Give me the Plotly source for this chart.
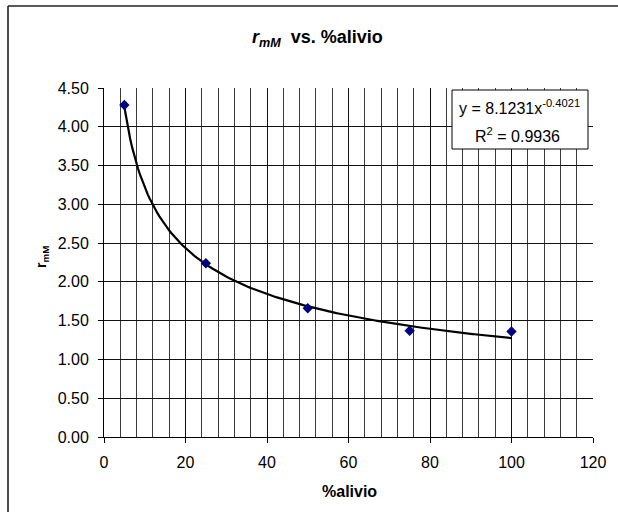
import numpy as np
import plotly.graph_objects as go

# ---- data ----
alivio = [5, 25, 50, 75, 100]
r_mM = [4.28, 2.24, 1.66, 1.37, 1.36]

# displayed power-trendline parameters (y = a * x^b)
fit_a = 8.1231
fit_b = -0.4021
fit_r2 = 0.9936

x_ticks = [0, 20, 40, 60, 80, 100, 120]
y_ticks = [0.0, 0.5, 1.0, 1.5, 2.0, 2.5, 3.0, 3.5, 4.0, 4.5]

# ---- layout geometry (window pixels) ----
W, H = 618, 512
L, R, T, B = 104, 593, 88, 437   # plot area edges in px

def px(x):
    return (x - L) / (R - L)

def py(y):
    return (B - y) / (B - T)

fit_x = np.linspace(min(alivio), max(alivio), 200)
fit_y = fit_a * fit_x ** fit_b

FONT = "Liberation Sans, Arial, sans-serif"

fig = go.Figure()
fig.add_trace(go.Scatter(
    x=fit_x, y=fit_y, mode="lines",
    line=dict(color="black", width=2.2), hoverinfo="skip", showlegend=False))
fig.add_trace(go.Scatter(
    x=alivio, y=r_mM, mode="markers",
    marker=dict(symbol="diamond", size=8, color="#000080",
                line=dict(width=0)),
    showlegend=False))

fig.update_layout(
    width=W, height=H,
    margin=dict(l=L, r=W - R, t=T, b=H - B, pad=0, autoexpand=False),
    paper_bgcolor="white", plot_bgcolor="white",
    font=dict(family=FONT, color="black", size=16),
    xaxis=dict(
        range=[0, 120], tickvals=x_ticks, ticktext=[str(v) for v in x_ticks],
        showgrid=True, gridcolor="#111", gridwidth=1,
        minor=dict(dtick=4, tick0=0, showgrid=True, gridcolor="#3a3a3a",
                   gridwidth=1, ticks=""),
        showline=True, linecolor="black", linewidth=1,
        ticks="outside", ticklen=5, tickcolor="black", tickwidth=1,
        ticklabelstandoff=6, zeroline=False, automargin=False,
        tickfont=dict(family=FONT, size=16)),
    yaxis=dict(
        range=[0, 4.5], tickvals=y_ticks,
        ticktext=[f"{v:.2f}" for v in y_ticks],
        showgrid=True, gridcolor="#111", gridwidth=1,
        showline=True, linecolor="black", linewidth=1,
        ticks="outside", ticklen=5, tickcolor="black", tickwidth=1,
        ticklabelstandoff=6, zeroline=False, automargin=False,
        tickfont=dict(family=FONT, size=16)),
)

shapes = [
    # outer chart border: left and top edges
    dict(type="line", xref="paper", yref="paper",
         x0=px(8), x1=px(8), y0=py(530), y1=py(6),
         line=dict(color="#222", width=1.6), layer="above"),
    dict(type="line", xref="paper", yref="paper",
         x0=px(8), x1=px(640), y0=py(6), y1=py(6),
         line=dict(color="#222", width=1.6), layer="above"),
    # trendline label box
    dict(type="rect", xref="paper", yref="paper",
         x0=px(452), x1=px(588), y0=py(149), y1=py(90),
         line=dict(color="black", width=1), fillcolor="white",
         layer="above"),
]
fig.update_layout(shapes=shapes)

annotations = [
    dict(text="<b><i>r</i><sub><i>mM</i></sub>  vs. %alivio</b>",
         x=px(317), y=py(38), xref="paper", yref="paper",
         xanchor="center", yanchor="middle", showarrow=False,
         font=dict(family=FONT, size=18)),
    dict(text="<b>%alivio</b>",
         x=px(349), y=py(492), xref="paper", yref="paper",
         xanchor="center", yanchor="middle", showarrow=False,
         font=dict(family=FONT, size=16)),
    dict(text="<b>r<sub>mM</sub></b>",
         x=px(42), y=py(257), xref="paper", yref="paper",
         xanchor="center", yanchor="middle", showarrow=False,
         textangle=-90, font=dict(family=FONT, size=14)),
    dict(text=f"y = {fit_a}x<sup>{fit_b}</sup>",
         x=px(519), y=py(107), xref="paper", yref="paper",
         xanchor="center", yanchor="middle", showarrow=False,
         font=dict(family=FONT, size=16)),
    dict(text=f"R<sup>2</sup> = {fit_r2}",
         x=px(517), y=py(135), xref="paper", yref="paper",
         xanchor="center", yanchor="middle", showarrow=False,
         font=dict(family=FONT, size=16)),
]
fig.update_layout(annotations=annotations)

fig.write_html("out.html",
               config={"displayModeBar": False},
               post_script="document.body.style.margin='0';")
